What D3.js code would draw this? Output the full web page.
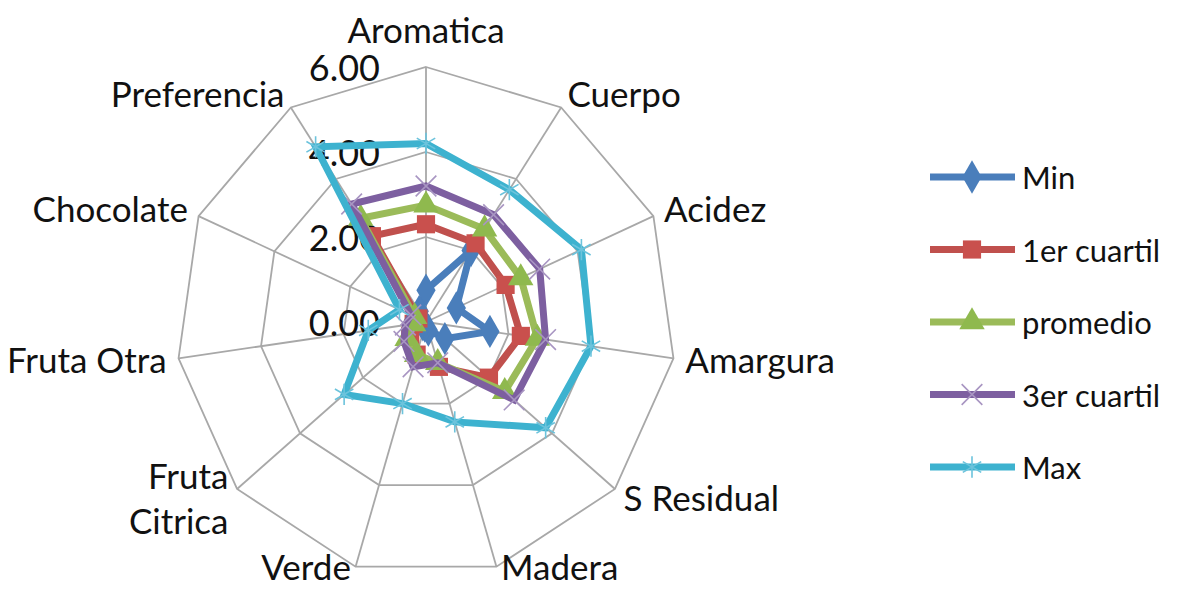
<!DOCTYPE html>
<html>
<head>
<meta charset="utf-8">
<script src="https://cdn.jsdelivr.net/npm/d3@7"></script>
<style>
  body { margin: 0; background: #fff; }
  text { font-family: Lato, "Open Sans", sans-serif; fill: #111; }
</style>
</head>
<body>
<div id="radar"></div>
<script>

// values
var categories = ["Aromatica", "Cuerpo", "Acidez", "Amargura", "S Residual", "Madera",
                  "Verde", "Fruta Citrica", "Fruta Otra", "Chocolate", "Preferencia"];
var seriesNames = ["Min", "1er cuartil", "promedio", "3er cuartil", "Max"];
var minVals      = [0.75, 2.0, 0.8, 1.55, 0.6, 0.2, 0.1, 0.1, 0.1, 0.1, 0.3];
var q1Vals       = [2.3, 2.2, 2.1, 2.3, 2.0, 1.1, 0.8, 0.5, 0.3, 0.2, 2.4];
var meanVals     = [2.75, 2.6, 2.5, 2.7, 2.5, 1.0, 0.8, 0.6, 0.3, 0.3, 2.9];
var q3Vals       = [3.2, 3.0, 3.0, 2.9, 2.8, 1.0, 1.1, 0.7, 0.5, 0.4, 3.3];
var maxVals      = [4.2, 3.7, 4.1, 4.0, 3.8, 2.45, 2.0, 2.6, 1.4, 0.7, 4.9];
var tickValues   = [0, 2, 4, 6];

var allSeries = [minVals, q1Vals, meanVals, q3Vals, maxVals];
var colors  = ["#4a7ebb", "#c0504d", "#9bbb59", "#7d5fa0", "#3db2cf"];
var markerColors = ["#4a7ebb", "#c9504d", "#8fb94e", "#a895c2", "#6cc3dc"];
var symbols = [d3.symbolDiamond, d3.symbolSquare, d3.symbolTriangle, d3.symbolX, d3.symbolAsterisk];
var symSizes = [320, 330, 280, 280, 320];
var filled = [true, true, true, false, false];

var width = 1179, height = 590;
var cx = 426, cy = 322;
var catFont = 35;

var svg = d3.select("#radar").append("svg")
    .attr("width", width)
    .attr("height", height);

var rX = d3.scaleLinear().domain([0, 6]).range([0, 250]);
var rY = d3.scaleLinear().domain([0, 6]).range([0, 255]);
var n = categories.length;
function angle(i) { return i * 2 * Math.PI / n; }
function px(v, i) { return cx + rX(v) * Math.sin(angle(i)); }
function py(v, i) { return cy - rY(v) * Math.cos(angle(i)); }

var grid = svg.append("g").attr("class", "grid");

// rings
tickValues.filter(function(t){ return t > 0; }).forEach(function(t) {
    var pts = categories.map(function(c, i){ return [px(t, i), py(t, i)]; });
    grid.append("polygon")
        .attr("points", pts.map(function(p){ return p.join(","); }).join(" "))
        .style("fill", "none")
        .style("stroke", "#a8a8a8")
        .style("stroke-width", 1.8);
});

// spokes
grid.selectAll("line.spoke")
    .data(categories)
    .enter()
    .append("line")
    .attr("class", "spoke")
    .attr("x1", cx)
    .attr("y1", cy)
    .attr("x2", function(d, i){ return px(6, i); })
    .attr("y2", function(d, i){ return py(6, i); })
    .style("stroke", "#a8a8a8")
    .style("stroke-width", 1.8);

// value axis labels
svg.selectAll("text.tick")
    .data(tickValues)
    .enter()
    .append("text")
    .attr("class", "tick")
    .attr("x", cx - 46)
    .attr("y", function(d){ return cy - rY(d); })
    .attr("text-anchor", "end")
    .attr("dominant-baseline", "central")
    .style("font-size", "36px")
    .text(function(d){ return d3.format(".2f")(d); });

// category labels
var wrapped = ["Fruta Citrica"];
svg.selectAll("text.cat")
    .data(categories)
    .enter()
    .append("text")
    .attr("class", "cat")
    .style("font-size", catFont + "px")
    .each(function(d, i) {
        var a = angle(i), s = Math.sin(a), c = Math.cos(a);
        var vx = px(6, i), vy = py(6, i);
        var t = d3.select(this);
        var x, y, anchor;
        if (Math.abs(s) < 0.01) {
            x = vx; y = vy - 37; anchor = "middle";
        } else {
            var gap = 4 + 8 * s * s;
            x = vx + (s > 0 ? gap : -gap);
            y = vy - c * 15;
            anchor = s > 0 ? "start" : "end";
        }
        // y is the middle of the text; turn it into a baseline kept inside the frame
        var base = Math.min(y + 0.36 * catFont, height - 10);
        t.attr("text-anchor", anchor);
        if (wrapped.indexOf(d) >= 0) {
            var words = d.split(" ");
            words.forEach(function(w, k) {
                t.append("tspan")
                    .attr("x", x)
                    .attr("y", base + (k - (words.length - 1) / 2) * 45)
                    .text(w);
            });
        } else {
            t.attr("x", x).attr("y", base).text(d);
        }
    });

// series
var line = d3.line()
    .x(function(d){ return px(d.v, d.i); })
    .y(function(d){ return py(d.v, d.i); })
    .curve(d3.curveLinearClosed);

allSeries.forEach(function(vals, s) {
    var pts = vals.map(function(v, i){ return {v: v, i: i}; });
    var g = svg.append("g").attr("class", "series");
    g.append("path")
        .attr("d", line(pts))
        .style("fill", "none")
        .style("stroke", colors[s])
        .style("stroke-width", 7)
        .style("stroke-linejoin", "miter");
    g.selectAll("path.mk")
        .data(pts)
        .enter()
        .append("path")
        .attr("class", "mk")
        .attr("d", d3.symbol().type(symbols[s]).size(symSizes[s]))
        .attr("transform", function(d){ return "translate(" + px(d.v, d.i) + "," + py(d.v, d.i) + ")"; })
        .style("fill", filled[s] ? markerColors[s] : "none")
        .style("stroke", markerColors[s])
        .style("stroke-width", filled[s] ? 0 : 1.6);
});

// legend
var legend = svg.append("g").attr("class", "legend");
var ly = d3.scalePoint().domain(seriesNames).range([177, 467]);
var lg = legend.selectAll("g")
    .data(seriesNames)
    .enter()
    .append("g")
    .attr("transform", function(d){ return "translate(0," + ly(d) + ")"; });

lg.append("line")
    .attr("x1", 930).attr("x2", 1015)
    .attr("y1", 0).attr("y2", 0)
    .style("stroke", function(d, i){ return colors[i]; })
    .style("stroke-width", 7);

lg.append("path")
    .attr("d", function(d, i){ return d3.symbol().type(symbols[i]).size(symSizes[i])(); })
    .attr("transform", "translate(972,0)")
    .style("fill", function(d, i){ return filled[i] ? markerColors[i] : "none"; })
    .style("stroke", function(d, i){ return markerColors[i]; })
    .style("stroke-width", function(d, i){ return filled[i] ? 0 : 1.6; });

lg.append("text")
    .attr("x", 1022)
    .attr("y", 0)
    .attr("dominant-baseline", "central")
    .style("font-size", "31px")
    .text(function(d){ return d; });

</script>
</body>
</html>
